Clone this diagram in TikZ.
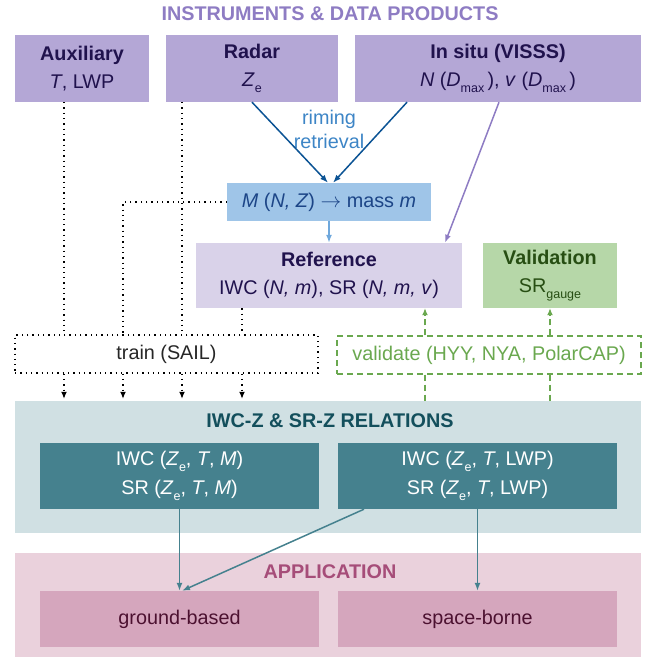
\documentclass[tikz,border=0pt]{standalone}
\usepackage{fontspec}
\setmainfont{Liberation Sans}
\usetikzlibrary{arrows.meta}

\definecolor{titlepurple}{HTML}{8E7CC3}
\definecolor{instpurple}{HTML}{B4A7D6}
\definecolor{darkpurple}{HTML}{20124D}
\definecolor{refpurple}{HTML}{D9D2E9}
\definecolor{massblue}{HTML}{9FC5E8}
\definecolor{masstext}{HTML}{1C4587}
\definecolor{rimeblue}{HTML}{0B5394}
\definecolor{rimetext}{HTML}{3D85C6}
\definecolor{lightblue}{HTML}{6FA8DC}
\definecolor{valgreen}{HTML}{B6D7A8}
\definecolor{valtext}{HTML}{274E13}
\definecolor{midgreen}{HTML}{6AA84F}
\definecolor{relpanel}{HTML}{D0E0E3}
\definecolor{reltitle}{HTML}{134F5C}
\definecolor{relteal}{HTML}{45818E}
\definecolor{apppanel}{HTML}{EAD1DC}
\definecolor{apptitle}{HTML}{A64D79}
\definecolor{appbox}{HTML}{D5A6BD}
\definecolor{apptext}{HTML}{4C1130}

\newcommand{\lowsub}[1]{\raisebox{-0.3em}{\fontsize{12.5}{12.5}\selectfont #1}}

\tikzset{
  every node/.style={font=\fontsize{19.8}{28.5}\selectfont, inner sep=0pt, align=center},
  headline/.style={font=\fontsize{19.8}{28.5}\selectfont\bfseries},
  instbox/.style={fill=instpurple, text=darkpurple, minimum height=67pt},
  teal box/.style={fill=relteal, text=white, minimum width=279pt, minimum height=66pt},
  app box/.style={fill=appbox, text=apptext, minimum width=279pt, minimum height=56pt},
  dotline/.style={black, line width=1.3pt, dash pattern=on 1.3pt off 4pt},
  dashline/.style={midgreen, line width=1.3pt, dash pattern=on 6pt off 4pt},
  flow/.style={line width=1.5pt, -{Latex[length=8pt,width=6pt]}},
  tip/.style={-{Latex[length=7pt,width=6pt]}},
}

\begin{document}
\begin{tikzpicture}[x=1pt,y=-1pt]
\useasboundingbox (0,0) rectangle (645,658);

% panels
\node[fill=relpanel, minimum width=626pt, minimum height=132pt] (iwc) at (328,467) {};
\node[fill=apppanel, minimum width=626pt, minimum height=104pt] (app) at (328,605) {};

% instruments
\node[headline, text=titlepurple] (insttitle) at (330,14) {INSTRUMENTS \& DATA PRODUCTS};
\node[instbox, minimum width=134pt] (aux) at (82,68.5) {\textbf{Auxiliary}\\\textit{T}, LWP};
\node[instbox, minimum width=172pt] (radar) at (252,68.5) {\textbf{Radar}\\\textit{Z}\lowsub{e}};
\node[instbox, minimum width=286pt] (insitu) at (498,68.5) {\textbf{In situ (VISSS)}\\\textit{N} (\textit{D}\lowsub{max}\,), \textit{v} (\textit{D}\lowsub{max}\,)};

\node[fill=massblue, text=masstext, minimum width=204pt, minimum height=38pt] (mass) at (329,202) {\textit{M} (\textit{N, Z}) $\rightarrow$ mass \textit{m}};
\node[text=rimetext, font=\fontsize{19.8}{24}\selectfont] (rimelabel) at (329,129) {riming\\retrieval};

\node[fill=refpurple, text=darkpurple, minimum width=266pt, minimum height=65pt] (ref) at (329,275.5) {\textbf{Reference}\\IWC (\textit{N, m}), SR (\textit{N, m, v})};
\node[fill=valgreen, text=valtext, minimum width=134pt, minimum height=65pt] (valid) at (550,275.5) {\textbf{Validation}\\SR\lowsub{gauge}};

\node[draw, dotline, text=black!85, minimum width=303pt, minimum height=38pt] (train) at (166.5,354) {train (SAIL)};
\node[draw, dashline, text=midgreen, minimum width=304pt, minimum height=38pt] (validate) at (489,355) {validate (HYY, NYA, PolarCAP)};

% relations
\node[headline, text=reltitle] (reltitle) at (330,421) {IWC-Z \& SR-Z RELATIONS};
\node[teal box] (relmass) at (179.5,476) {IWC (\textit{Z}\lowsub{e}, \textit{T}, \textit{M})\\SR (\textit{Z}\lowsub{e}, \textit{T}, \textit{M})};
\node[teal box] (rellwp) at (477.5,476) {IWC (\textit{Z}\lowsub{e}, \textit{T}, LWP)\\SR (\textit{Z}\lowsub{e}, \textit{T}, LWP)};

% application
\node[headline, text=apptitle] (apptitle) at (330,572) {APPLICATION};
\node[app box] (ground) at (179.5,619) {ground-based};
\node[app box] (space) at (477.5,619) {space-borne};

% riming retrieval
\draw[flow, rimeblue] (radar.south) -- ([xshift=-1pt]mass.north);
\draw[flow, rimeblue] ([xshift=-91pt]insitu.south) -- ([xshift=4pt]mass.north);
\draw[flow, titlepurple] ([xshift=1pt]insitu.south) -- ([xshift=116pt]ref.north);
\draw[flow, lightblue] (mass.south) -- (ref.north);

% training inputs
\draw[dotline] ([xshift=-18pt]aux.south) -- ([xshift=-18pt]aux.south |- train.north);
\draw[dotline] ([xshift=-70pt]radar.south) -- ([xshift=-70pt]radar.south |- train.north);
\draw[dotline] (mass.west) -| ([xshift=-43.5pt]train.north);
\draw[dotline] ([xshift=-87pt]ref.south) -- ([xshift=-87pt]ref.south |- train.north);
\foreach \dx in {-102.5,-43.5,15.5,75.5}
  \draw[dotline, tip, shorten >=2pt] ([xshift=\dx pt]train.south) -- ([xshift=\dx pt]train.south |- iwc.north);

% validation
\draw[dashline, tip] ([xshift=-64pt]validate.north) -- ([xshift=-64pt]validate.north |- ref.south);
\draw[dashline, tip] ([xshift=61pt]validate.north) -- ([xshift=61pt]validate.north |- valid.south);
\draw[dashline] ([xshift=-64pt]validate.south) -- ([xshift=-64pt]validate.south |- iwc.north);
\draw[dashline] ([xshift=61pt]validate.south) -- ([xshift=61pt]validate.south |- iwc.north);

% relations to application
\draw[flow, relteal] (relmass.south) -- (ground.north);
\draw[flow, relteal] ([xshift=-113.5pt]rellwp.south) -- ([xshift=2.5pt]ground.north);
\draw[flow, relteal] (rellwp.south) -- (space.north);
\end{tikzpicture}
\end{document}
